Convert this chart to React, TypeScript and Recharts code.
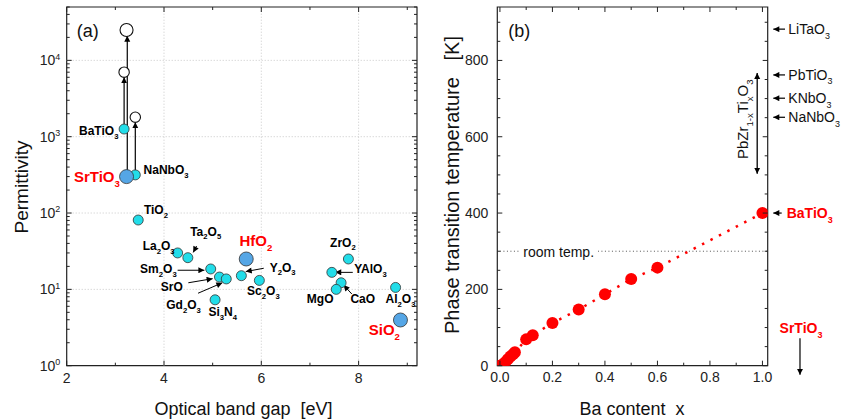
import {
  ReferenceArea,
  ReferenceDot,
  ReferenceLine,
  Scatter,
  ScatterChart,
  XAxis,
  YAxis,
} from 'recharts'

const FONT = '"Liberation Sans", Arial, Helvetica, sans-serif'

// ---- panel (a): permittivity vs optical band gap
const cyanNames = ['BaTiO_{3}', 'NaNbO_{3}', 'TiO_{2}', 'La_{2}O_{3}', 'Ta_{2}O_{5}', 'Sm_{2}O_{3}', 'SrO', 'Gd_{2}O_{3}', 'Si_{3}N_{4}', 'Y_{2}O_{3}', 'Sc_{2}O_{3}', 'ZrO_{2}', 'YAlO_{3}', 'CaO', 'MgO', 'Al_{2}O_{3}']
const cyanGap = [3.18, 3.41, 3.47, 4.28, 4.49, 4.96, 5.14, 5.28, 5.05, 5.59, 5.96, 7.79, 7.45, 7.64, 7.54, 8.76]
const cyanEps = [1260, 316, 81, 30, 26, 18.5, 14.5, 13.7, 7.3, 15.1, 13.1, 25, 16.7, 12.2, 10, 10.6]

const blueNames = ['SrTiO_{3}', 'HfO_{2}', 'SiO_{2}']
const blueGap = [3.23, 5.69, 8.86]
const blueEps = [300, 25, 3.97]

// open circles: bulk / low-temperature values the arrows point to
const openGap = [3.23, 3.18, 3.41]
const openEps = [25000, 7000, 1800]

// [x1, y1, x2, y2] in data units
const riseArrows: number[][] = [
  [3.245, 300, 3.245, 21000],
  [3.18, 1260, 3.18, 6000],
  [3.41, 316, 3.41, 1550],
]
const pointerArrows: number[][] = [
  [4.28, 17.8, 4.83, 17.8],
  [4.5, 12.2, 5.0, 13.8],
  [4.7, 8.9, 5.2, 12.2],
  [6.05, 18.9, 5.68, 17.1],
  [4.67, 37, 4.6, 30.5],
  [7.88, 16.7, 7.52, 16.7],
  [7.86, 8.7, 7.69, 11.4],
]

const gapTicks = [2, 3, 4, 5, 6, 7, 8, 9]
const epsTicks = [1, 10, 100, 1000, 10000].flatMap((d) => [1, 2, 3, 4, 5, 6, 7, 8, 9].map((m) => m * d)).filter((v) => v <= 50000)
const gapGrid = [4, 6, 8]
const epsGrid = [10, 100, 1000, 10000]

// ---- panel (b): transition temperature vs Ba content
const baContent = [0, 0.01, 0.02, 0.03, 0.04, 0.05, 0.057, 0.1, 0.125, 0.2, 0.3, 0.4, 0.5, 0.6, 1.0]
const tTransition = [0, 3, 9, 17, 24, 30, 35, 69, 80, 112, 147, 187, 227, 257, 400]
const baTicks = [0, 0.1, 0.2, 0.3, 0.4, 0.5, 0.6, 0.7, 0.8, 0.9, 1.0]
const tTicks = [0, 50, 100, 150, 200, 250, 300, 350, 400, 450, 500, 550, 600, 650, 700, 750, 800, 850, 900]

const sideNames = ['LiTaO_{3}', 'PbTiO_{3}', 'KNbO_{3}', 'NaNbO_{3}']
const sideTemps = [882, 762, 701, 651]
const roomTemp = 300

// label placement: [dx, dy, anchor] relative to the marker centre, in px
const labelPos: Record<string, [number, number, 'start' | 'end']> = {
  'BaTiO_{3}': [-5.7, 1.8, 'end'],
  'NaNbO_{3}': [8.3, -5, 'start'],
  'TiO_{2}': [5.7, -10, 'start'],
  'La_{2}O_{3}': [-3, -7, 'end'],
  'Ta_{2}O_{5}': [2.3, -26.4, 'start'],
  'Sm_{2}O_{3}': [-34, -0.3, 'end'],
  'SrO': [-36.6, 9.5, 'end'],
  'Gd_{2}O_{3}': [-60, 25.7, 'start'],
  'Si_{3}N_{4}': [-6.7, 12, 'start'],
  'Y_{2}O_{3}': [28.3, -8.5, 'start'],
  'Sc_{2}O_{3}': [-12.3, 10.2, 'start'],
  'ZrO_{2}': [-18.3, -16.7, 'start'],
  'YAlO_{3}': [22.3, -3.5, 'start'],
  'CaO': [9.3, 16.1, 'start'],
  'MgO': [-2.7, 9.5, 'end'],
  'Al_{2}O_{3}': [-10, 11.5, 'start'],
  'SrTiO_{3}': [-6.7, 0, 'end'],
  'HfO_{2}': [-6.7, -18.2, 'start'],
  'SiO_{2}': [-31.7, 9.8, 'start'],
}

const A = { top: 7, left: 66.7, right: 417, bottom: 365.7 }
const B = { top: 7, left: 77.3, right: 347.7, bottom: 365.7 }
const AXIS = '#222'

interface ChemProps {
  x: number
  y: number
  text: string
  size: number
  fill?: string
  weight?: number
  anchor?: 'start' | 'middle' | 'end'
  transform?: string
}

// text with _{sub} and ^{sup} parts, y is the visual centre of the capitals
function Chem({ x, y, text, size, fill = '#000', weight = 700, anchor = 'start', transform }: ChemProps) {
  const parts = text.split(/(_\{[^}]*\}|\^\{[^}]*\})/).filter((s) => s !== '')
  let shift = 0
  const spans = parts.map((part, i) => {
    let target = 0
    let fs = size
    let content = part
    if (part.startsWith('_{')) {
      target = size * 0.32
      fs = size * 0.64
      content = part.slice(2, -1)
    } else if (part.startsWith('^{')) {
      target = -size * 0.42
      fs = size * 0.64
      content = part.slice(2, -1)
    }
    const dy = target - shift
    shift = target
    return (
      <tspan key={i} dy={dy} fontSize={fs}>
        {content}
      </tspan>
    )
  })
  return (
    <text x={x} y={y + size * 0.36} fontSize={size} fontFamily={FONT} fontWeight={weight} fill={fill} textAnchor={anchor} transform={transform}>
      {spans}
    </text>
  )
}

const isPow10 = (v: number) => Math.abs(Math.log10(v) - Math.round(Math.log10(v))) < 1e-9

const tickGapA = (props: any) => {
  const { x, payload } = props
  const major = payload.value % 2 === 0
  const len = major ? 5 : 3
  return (
    <g>
      <line x1={x} x2={x} y1={A.bottom} y2={A.bottom - len} stroke={AXIS} />
      <line x1={x} x2={x} y1={A.top} y2={A.top + len} stroke={AXIS} />
      {major && (
        <text x={x} y={A.bottom + 17.5} textAnchor="middle" fontSize={14} fontFamily={FONT} fill="#222">
          {payload.value}
        </text>
      )}
    </g>
  )
}

const tickEpsA = (props: any) => {
  const { y, payload } = props
  const major = isPow10(payload.value)
  const len = major ? 5 : 3
  return (
    <g>
      <line x1={A.left} x2={A.left + len} y1={y} y2={y} stroke={AXIS} />
      <line x1={A.right} x2={A.right - len} y1={y} y2={y} stroke={AXIS} />
      {major && <Chem x={A.left - 6.5} y={y} text={`10^{${Math.round(Math.log10(payload.value))}}`} size={14} weight={400} anchor="end" fill="#222" />}
    </g>
  )
}

const tickBaB = (props: any) => {
  const { x, payload } = props
  const major = Math.round(payload.value * 10) % 2 === 0
  const len = major ? 5 : 3
  return (
    <g>
      <line x1={x} x2={x} y1={B.bottom} y2={B.bottom - len} stroke={AXIS} />
      <line x1={x} x2={x} y1={B.top} y2={B.top + len} stroke={AXIS} />
      {major && (
        <text x={x} y={B.bottom + 16.5} textAnchor="middle" fontSize={14} fontFamily={FONT} fill="#222">
          {payload.value.toFixed(1)}
        </text>
      )}
    </g>
  )
}

const tickTB = (props: any) => {
  const { y, payload } = props
  const major = payload.value % 200 === 0
  const len = major ? 5 : 3
  return (
    <g>
      <line x1={B.left} x2={B.left + len} y1={y} y2={y} stroke={AXIS} />
      <line x1={B.right} x2={B.right - len} y1={y} y2={y} stroke={AXIS} />
      {major && (
        <text x={B.left - 9} y={y + 5} textAnchor="end" fontSize={14} fontFamily={FONT} fill="#222">
          {payload.value}
        </text>
      )}
    </g>
  )
}

const labelled = (r: number, fill: string, size: number, color: string) => (props: any) => {
  const { cx, cy, payload } = props
  const pos = labelPos[payload.name]
  return (
    <g>
      <circle cx={cx} cy={cy} r={r} fill={fill} stroke="#333" strokeWidth={0.8} />
      {pos && <Chem x={cx + pos[0]} y={cy + pos[1]} text={payload.name} size={size} fill={color} anchor={pos[2]} />}
    </g>
  )
}

const openDot = (props: any) => (
  <circle cx={props.cx} cy={props.cy} r={props.payload.eps > 20000 ? 6.5 : 5.2} fill="#fff" stroke="#111" strokeWidth={1.1} />
)

const redDot = (props: any) => <circle cx={props.cx} cy={props.cy} r={6} fill="#ff0000" />

const arrowShape = (marker: string, width = 1.2) => (p: any) => (
  <line x1={p.x1} y1={p.y1} x2={p.x2} y2={p.y2} stroke="#000" strokeWidth={width} markerEnd={`url(#${marker})`} />
)

const sideNote = (text: string, color: string, weight: number, tail: number, tip: number, textDx: number) => (p: any) => (
  <g>
    <line x1={p.cx + tail} y1={p.cy} x2={p.cx + tip} y2={p.cy} stroke="#000" strokeWidth={1.2} markerEnd="url(#headS)" />
    <Chem x={p.cx + textDx} y={p.cy} text={text} size={14} fill={color} weight={weight} />
  </g>
)

export default function App() {
  const cyanData = cyanNames.map((name, i) => ({ name, gap: cyanGap[i], eps: cyanEps[i] }))
  const blueData = blueNames.map((name, i) => ({ name, gap: blueGap[i], eps: blueEps[i] }))
  const openData = openGap.map((gap, i) => ({ gap, eps: openEps[i] }))
  const baData = baContent.map((x, i) => ({ x, t: tTransition[i] }))

  return (
    <div style={{ position: 'absolute', left: 0, top: 0, width: 843, height: 420, background: '#fff' }}>
      <div style={{ position: 'absolute', left: 0, top: 0 }}>
        <ScatterChart width={420} height={420} margin={{ top: A.top, right: 420 - A.right, bottom: 420 - A.bottom - 30, left: A.left - 50 }}>
          <XAxis type="number" dataKey="gap" domain={[2, 9.2]} ticks={gapTicks} interval={0} tickSize={0} tickMargin={0} axisLine={false} tickLine={false} tick={tickGapA} height={30} allowDataOverflow />
          <YAxis type="number" dataKey="eps" scale="log" domain={[1, 50000]} ticks={epsTicks} interval={0} tickSize={0} tickMargin={0} axisLine={false} tickLine={false} tick={tickEpsA} width={50} allowDataOverflow />
          {gapGrid.map((g) => (
            <ReferenceLine key={`gx${g}`} x={g} stroke="#c8c8c8" strokeDasharray="1 2" />
          ))}
          {epsGrid.map((g) => (
            <ReferenceLine key={`gy${g}`} y={g} stroke="#c8c8c8" strokeDasharray="1 2" />
          ))}
          <ReferenceArea x1={2} x2={9.2} y1={1} y2={50000} fill="none" stroke={AXIS} strokeWidth={1.2} ifOverflow="visible" />
          {riseArrows.map((a, i) => (
            <ReferenceLine key={`r${i}`} segment={[{ x: a[0], y: a[1] }, { x: a[2], y: a[3] }]} shape={arrowShape('headL')} ifOverflow="visible" />
          ))}
          {pointerArrows.map((a, i) => (
            <ReferenceLine key={`p${i}`} segment={[{ x: a[0], y: a[1] }, { x: a[2], y: a[3] }]} shape={arrowShape('headS', 1)} ifOverflow="visible" />
          ))}
          <Scatter data={openData} shape={openDot} isAnimationActive={false} />
          <Scatter data={cyanData} shape={labelled(5, '#22dde9', 12, '#000')} isAnimationActive={false} />
          <Scatter data={blueData} shape={labelled(7, '#55a6e6', 15, '#ff0000')} isAnimationActive={false} />
        </ScatterChart>
      </div>

      <div style={{ position: 'absolute', left: 420, top: 0 }}>
        <ScatterChart width={423} height={420} margin={{ top: B.top, right: 423 - B.right, bottom: 420 - B.bottom - 30, left: B.left - 50 }}>
          <XAxis type="number" dataKey="x" domain={[-0.01, 1.02]} ticks={baTicks} interval={0} tickSize={0} tickMargin={0} axisLine={false} tickLine={false} tick={tickBaB} height={30} allowDataOverflow />
          <YAxis type="number" dataKey="t" domain={[0, 940]} ticks={tTicks} interval={0} tickSize={0} tickMargin={0} axisLine={false} tickLine={false} tick={tickTB} width={50} allowDataOverflow />
          <ReferenceArea x1={-0.01} x2={1.02} y1={0} y2={940} fill="none" stroke={AXIS} strokeWidth={1.2} ifOverflow="visible" />
          <ReferenceLine segment={[{ x: 0, y: roomTemp }, { x: 1.02, y: roomTemp }]} stroke="#555" strokeDasharray="1 2.5" />
          <ReferenceDot
            x={0}
            y={roomTemp}
            ifOverflow="visible"
            shape={(p: any) => (
              <g>
                <rect x={p.cx + 20} y={p.cy - 7} width={78} height={14} fill="#fff" />
                <text x={p.cx + 23.3} y={p.cy + 6} fontSize={14} fontFamily={FONT} fill="#111">
                  room temp.
                </text>
              </g>
            )}
          />
          <ReferenceLine
            segment={[{ x: 0.98, y: 503 }, { x: 0.98, y: 767 }]}
            ifOverflow="visible"
            shape={(p: any) => (
              <line x1={p.x1} y1={p.y1} x2={p.x2} y2={p.y2} stroke="#000" strokeWidth={1.3} markerStart="url(#headL)" markerEnd="url(#headL)" />
            )}
          />
          <ReferenceDot
            x={0.926}
            y={646}
            ifOverflow="visible"
            shape={(p: any) => (
              <Chem x={p.cx} y={p.cy} text="PbZr_{1-x}Ti_{x}O_{3}" size={15} weight={400} anchor="middle" fill="#111" transform={`rotate(-90 ${p.cx} ${p.cy})`} />
            )}
          />
          {sideNames.map((n, i) => (
            <ReferenceDot key={n} x={1.02} y={sideTemps[i]} ifOverflow="visible" shape={sideNote(n, '#111', 400, 17.3, 5.6, 20.6)} />
          ))}
          <ReferenceDot x={1.02} y={400} ifOverflow="visible" shape={sideNote('BaTiO_{3}', '#ff0000', 700, 14, 5.6, 19)} />
          <ReferenceLine segment={[{ x: 1.143, y: 72 }, { x: 1.143, y: -24 }]} ifOverflow="visible" shape={arrowShape('headL')} />
          <ReferenceDot
            x={1.143}
            y={98}
            ifOverflow="visible"
            shape={(p: any) => <Chem x={p.cx + 1} y={p.cy} text="SrTiO_{3}" size={14} fill="#ff0000" anchor="middle" />}
          />
          <Scatter
            data={baData}
            shape={redDot}
            line={{ stroke: '#ff0000', strokeWidth: 2.5, strokeDasharray: '2.5 7' }}
            lineType="joint"
            isAnimationActive={false}
          />
        </ScatterChart>
      </div>

      <svg width={843} height={420} style={{ position: 'absolute', left: 0, top: 0, pointerEvents: 'none' }}>
        <defs>
          <marker id="headL" viewBox="0 0 10 10" refX="10" refY="5" markerWidth="6" markerHeight="9" markerUnits="userSpaceOnUse" orient="auto-start-reverse">
            <path d="M0,0L10,5L0,10z" fill="#000" />
          </marker>
          <marker id="headS" viewBox="0 0 10 10" refX="10" refY="5" markerWidth="7" markerHeight="6" markerUnits="userSpaceOnUse" orient="auto-start-reverse">
            <path d="M0,0L10,5L0,10z" fill="#000" />
          </marker>
        </defs>
        <text x={76.7} y={36.5} fontSize={18} fontFamily={FONT} fill="#111">(a)</text>
        <text x={508.3} y={36.5} fontSize={18} fontFamily={FONT} fill="#111">(b)</text>
        <text x={243.5} y={414.5} fontSize={18} fontFamily={FONT} fill="#111" textAnchor="middle" style={{ whiteSpace: 'pre' }}>
          Optical band gap  [eV]
        </text>
        <text x={632} y={414.5} fontSize={18} fontFamily={FONT} fill="#111" textAnchor="middle" style={{ whiteSpace: 'pre' }}>
          Ba content  x
        </text>
        <text x={0} y={0} fontSize={19} fontFamily={FONT} fill="#111" textAnchor="middle" transform="translate(28 187) rotate(-90)">
          Permittivity
        </text>
        <text x={0} y={0} fontSize={20} fontFamily={FONT} fill="#111" textAnchor="middle" transform="translate(458.5 185) rotate(-90)" style={{ whiteSpace: 'pre' }}>
          Phase transition temperature   [K]
        </text>
      </svg>
    </div>
  )
}
